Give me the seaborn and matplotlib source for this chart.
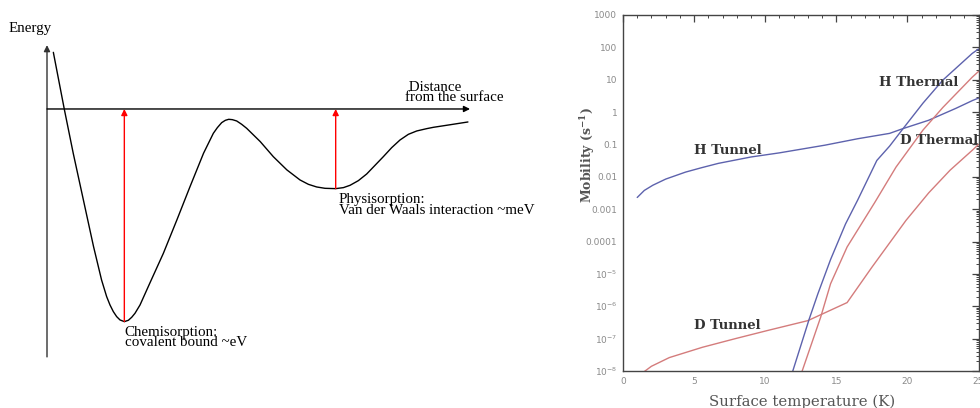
import matplotlib
matplotlib.use('Agg')
import matplotlib.pyplot as plt
import matplotlib.ticker as mticker
import numpy as np
import pandas as pd
import seaborn as sns

# ---- left panel: schematic adsorption potential (arbitrary units) ----
distance = [0.15, 0.41, 0.62, 0.86, 1.10, 1.29, 1.41, 1.489, 1.568, 1.647, 1.726, 1.828,
            1.923, 2.002, 2.080, 2.199, 2.43, 2.75, 3.07, 3.38, 3.70, 3.932, 4.027, 4.129,
            4.216, 4.295, 4.381, 4.484, 4.602, 4.720, 5.04, 5.35, 5.67, 5.981, 6.178, 6.375,
            6.572, 6.824, 7.006, 7.163, 7.360, 7.557, 7.951, 8.148, 8.345, 8.542, 8.739,
            8.976, 9.133, 9.53, 9.95]
energy = [2.66, -0.02, -2.08, -4.27, -6.46, -8.03, -8.81, -9.202, -9.515, -9.750, -9.906, -9.984,
          -9.922, -9.781, -9.593, -9.202, -8.18, -6.78, -5.21, -3.65, -2.08, -1.142, -0.876, -0.642,
          -0.532, -0.485, -0.501, -0.563, -0.720, -0.908, -1.53, -2.24, -2.86, -3.333, -3.537, -3.662,
          -3.725, -3.740, -3.693, -3.584, -3.365, -3.052, -2.238, -1.815, -1.455, -1.190, -1.033,
          -0.923, -0.861, -0.74, -0.61]
axis_x_end = 10.0
axis_y_top = 3.0
axis_y_bottom = -11.64

# ---- right panel: mobility vs surface temperature ----
h_tunnel_T = [1.0, 1.5, 2.1, 3.0, 4.4, 5.5, 6.7, 9.0, 11.0, 14.2, 16.5, 18.75, 19.7, 21.5, 23.4, 24.6, 25.0]
h_tunnel_mob = [2.3e-3, 3.8e-3, 5.5e-3, 8.5e-3, 1.4e-2, 1.9e-2, 2.6e-2, 4.1e-2, 5.5e-2, 9.5e-2,
                0.15, 0.22, 0.31, 0.56, 1.3, 2.3, 2.7]

d_tunnel_T = [1.4, 1.55, 2.0, 3.26, 5.58, 7.9, 10.2, 13.0, 15.76, 17.5, 19.2, 19.9, 21.5, 23.0, 24.56, 25.0]
d_tunnel_mob = [8.9e-9, 1.0e-8, 1.4e-8, 2.6e-8, 5.4e-8, 1.0e-7, 1.8e-7, 3.6e-7, 1.3e-6, 1.6e-5,
                1.7e-4, 4.5e-4, 3.2e-3, 1.6e-2, 6.6e-2, 0.1]

h_thermal_T = [11.8, 11.94, 13.1, 13.7, 14.6, 15.65, 16.5, 17.85, 18.75, 19.7, 21.1, 22.5, 24.56, 25.0]
h_thermal_mob = [5e-9, 1e-8, 4.1e-7, 2.4e-6, 2.8e-5, 3.5e-4, 1.9e-3, 3.2e-2, 8.9e-2, 0.31,
                 1.9, 9.8, 65, 89]

d_thermal_T = [12.45, 12.6, 13.9, 14.6, 15.76, 17.7, 19.2, 21.1, 22.5, 24.56, 25.0]
d_thermal_mob = [5e-9, 1e-8, 4.6e-7, 5.0e-6, 6.8e-5, 1.6e-3, 2.0e-2, 0.28, 1.4, 12, 18]

xtick_vals = [0, 5, 10, 15, 20, 25]
ytick_vals = [1e3, 1e2, 1e1, 1, 1e-1, 1e-2, 1e-3, 1e-4, 1e-5, 1e-6, 1e-7, 1e-8]
ytick_labels = ['1000', '100', '10', '1', '0.1', '0.01', '0.001', '0.0001',
                '$10^{-5}$', '$10^{-6}$', '$10^{-7}$', '$10^{-8}$']

sns.set_style('white')
plt.rcParams['font.family'] = ['Liberation Serif', 'DejaVu Serif']
plt.rcParams['mathtext.default'] = 'regular'

H_COLOR = '#5d62ad'
D_COLOR = '#d47c7c'

fig = plt.figure(figsize=(9.8, 4.08), dpi=100)

# ---------------- left: schematic ----------------
axl = fig.add_axes([0, 0, 539 / 980, 1])
axl.set_xlim(-1.111, 11.63)
axl.set_ylim(-14.04, 5.117)
axl.axis('off')

pot = pd.DataFrame({'distance': distance, 'energy': energy})
sns.lineplot(data=pot, x='distance', y='energy', ax=axl, color='black', lw=1.0,
             sort=False, estimator=None)

arrow_kw = dict(arrowstyle='-|>', lw=1.0, mutation_scale=9, shrinkA=0, shrinkB=0)
axl.annotate('', xy=(0, axis_y_top), xytext=(0, axis_y_bottom),
             arrowprops=dict(color='#333333', **arrow_kw))
axl.annotate('', xy=(axis_x_end, 0), xytext=(0, 0),
             arrowprops=dict(color='black', **arrow_kw))

# red arrows from the two wells up to the zero line
i_chem = int(np.argmin(energy))
i_phys = int(np.argmin(energy[30:])) + 30
for i in (i_chem, i_phys):
    axl.annotate('', xy=(distance[i], 0), xytext=(distance[i], energy[i]),
                 arrowprops=dict(color='red', **arrow_kw))

tkw = dict(fontsize=10.8, color='black', va='center', ha='left', linespacing=0.78)
axl.text(-0.9, 3.76, 'Energy', **tkw)
axl.text(8.46, 0.775, ' Distance\nfrom the surface', **tkw)
axl.text(6.9, -4.507, 'Physisorption:\nVan der Waals interaction ~meV', **tkw)
axl.text(1.84, -10.73, 'Chemisorption:\ncovalent bound ~eV', **tkw)

# ---------------- right: mobility ----------------
axr = fig.add_axes([623 / 980, 1 - 371 / 408, 355.5 / 980, 356 / 408])
series = [
    (h_tunnel_T, h_tunnel_mob, H_COLOR),
    (d_tunnel_T, d_tunnel_mob, D_COLOR),
    (h_thermal_T, h_thermal_mob, H_COLOR),
    (d_thermal_T, d_thermal_mob, D_COLOR),
]
for T, mob, col in series:
    sns.lineplot(x=T, y=mob, ax=axr, color=col, lw=1.0, estimator=None)

axr.set_yscale('log')
axr.set_xlim(0, 25)
axr.set_ylim(1e-8, 1e3)
axr.xaxis.set_major_locator(mticker.FixedLocator(xtick_vals))
axr.xaxis.set_minor_locator(mticker.MultipleLocator(1))
axr.yaxis.set_major_locator(mticker.FixedLocator(ytick_vals))
axr.yaxis.set_major_formatter(mticker.FixedFormatter(ytick_labels))
axr.yaxis.set_minor_locator(mticker.LogLocator(base=10, subs=np.arange(2, 10), numticks=30))
axr.yaxis.set_minor_formatter(mticker.NullFormatter())

axr.tick_params(which='both', direction='in', top=True, right=True, color='#444444',
                labelcolor='#8a8a8a', labelsize=6.5)
axr.tick_params(which='major', length=5, width=0.9, pad=4)
axr.tick_params(which='minor', length=2.5, width=0.7)
for lab in axr.get_xticklabels() + axr.get_yticklabels():
    lab.set_family(['DejaVu Sans'])
for sp in axr.spines.values():
    sp.set_color('#444444')
    sp.set_linewidth(1.0)

mono = ['DejaVu Serif']
axr.set_xlabel('Surface temperature (K)', fontsize=10.7, color='#555555', family=mono,
               va='center')
axr.xaxis.set_label_coords(0.505, -0.087)
axr.set_ylabel('Mobility (s$^{-1}$)', fontsize=9, color='#555555', family=mono,
               fontweight='bold', va='center')
axr.yaxis.set_label_coords(-0.101, 0.607)

lkw = dict(fontsize=9.5, color='#333333', family=mono, fontweight='bold',
           va='center', ha='left')
axr.text(5.0, 10 ** -1.18, 'H Tunnel', **lkw)
axr.text(5.0, 10 ** -6.6, 'D Tunnel', **lkw)
axr.text(18.0, 10 ** 0.9, 'H Thermal', **lkw)
axr.text(19.45, 10 ** -0.87, 'D Thermal', clip_on=False, **lkw)

fig.savefig('out.png', dpi=100)
